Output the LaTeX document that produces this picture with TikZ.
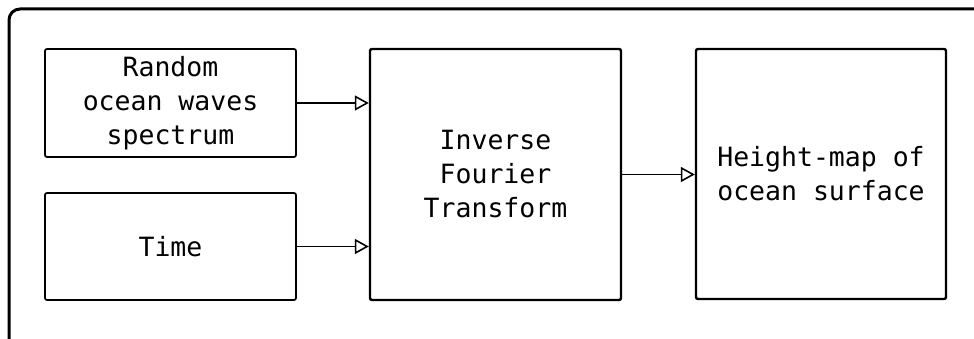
\documentclass[tikz,border=0pt]{standalone}
\usepackage{fontspec}
\setmainfont{DejaVu Sans Mono}
\usetikzlibrary{arrows.meta}
\tikzset{
  blk/.style={draw=black, rounded corners=2pt, align=center, inner sep=0pt,
    font=\fontsize{26.5}{34}\selectfont},
  thinblk/.style={blk, line width=1.7pt},
  thickblk/.style={blk, line width=2.4pt},
  flow/.style={line width=1.5pt, -{Triangle[open, length=14pt, width=15pt, line width=1.6pt]}}
}
\begin{document}
\begin{tikzpicture}[x=1pt,y=1pt]
\useasboundingbox (0,0) rectangle (974,338);
\clip (0,0) rectangle (974,338);
\fill[white] (0,0) rectangle (974,338);
\draw[line width=3pt, rounded corners=11pt] (9,-30) rectangle (1010,329);
\node[thinblk, minimum width=251pt, minimum height=108pt] (rand) at (170.5,235) {Random\\ocean waves\\spectrum};
\node[thinblk, minimum width=251pt, minimum height=107pt] (time) at (170.5,91.5) {Time};
\node[thickblk, minimum width=251pt, minimum height=251pt] (ift) at (495.5,163.5) {Inverse\\Fourier\\Transform};
\node[thickblk, minimum width=250pt, minimum height=250pt] (hmap) at (821,164) {Height-map of\\ocean surface};
\draw[flow] (rand.east) -- (rand.east -| ift.west);
\draw[flow] (time.east) -- (time.east -| ift.west);
\draw[flow] (ift.east) -- (ift.east -| hmap.west);
\end{tikzpicture}
\end{document}
